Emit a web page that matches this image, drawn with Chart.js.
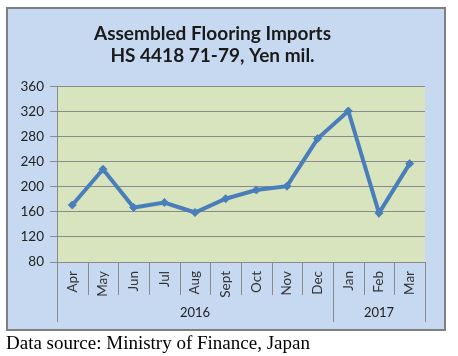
<!DOCTYPE html>
<html>
<head>
<meta charset="utf-8">
<script src="https://cdn.jsdelivr.net/npm/chart.js@4"></script>
<style>
  html, body { margin: 0; padding: 0; background: #ffffff; }
  #wrap { position: relative; width: 458px; height: 356px; }
  #c { position: absolute; left: 0; top: 0; }
  #src { position: absolute; left: 6px; top: 332px; font-family: "Liberation Serif", "Times New Roman", serif; font-size: 19px; line-height: 22px; color: #000; white-space: nowrap; }
</style>
</head>
<body>
<div id="wrap">
  <canvas id="c" width="458" height="356"></canvas>
  <div id="src">Data source: Ministry of Finance, Japan</div>
</div>
<script>
// ---- data ----
const titleLines = ['Assembled Flooring Imports', 'HS 4418 71-79, Yen mil.'];
const categories = ['Apr', 'May', 'Jun', 'Jul', 'Aug', 'Sept', 'Oct', 'Nov', 'Dec', 'Jan', 'Feb', 'Mar'];
const importValues = [171, 228, 167, 175, 159, 181, 195, 201, 277, 321, 158, 237];
const years = ['2016', '2017'];
const monthsPerYear = [9, 3];
const yMin = 80, yMax = 360, yStep = 40;

// ---- styles ----
const BOX_BG = '#c6d9f1';
const PLOT_BG = '#d7e4bd';
const GRID = '#8a8a8a';
const LINE = '#4a7ebb';
const FONT = 'Lato, "Open Sans", sans-serif';

const decorPlugin = {
  id: 'decor',
  beforeDraw(chart) {
    const ctx = chart.ctx, a = chart.chartArea;
    ctx.save();
    ctx.fillStyle = '#ffffff';
    ctx.fillRect(0, 0, chart.width, chart.height);
    ctx.fillStyle = BOX_BG;
    ctx.fillRect(7, 8, 438, 322);
    ctx.strokeStyle = '#7f7f7f';
    ctx.lineWidth = 2;
    ctx.strokeRect(7, 8, 438, 322);
    ctx.fillStyle = PLOT_BG;
    ctx.fillRect(a.left, a.top, a.right - a.left, a.bottom - a.top);
    ctx.restore();
  },
  afterDraw(chart) {
    const ctx = chart.ctx, a = chart.chartArea, xs = chart.scales.x;
    const n = categories.length;
    const boundary = (i) => {
      if (i <= 0) return xs.getPixelForValue(0) - (xs.getPixelForValue(1) - xs.getPixelForValue(0)) / 2;
      if (i >= n) return xs.getPixelForValue(n - 1) + (xs.getPixelForValue(n - 1) - xs.getPixelForValue(n - 2)) / 2;
      return (xs.getPixelForValue(i - 1) + xs.getPixelForValue(i)) / 2;
    };
    const groupEdges = [0];
    monthsPerYear.forEach((m) => groupEdges.push(groupEdges[groupEdges.length - 1] + m));
    ctx.save();
    ctx.strokeStyle = GRID;
    ctx.lineWidth = 1;
    for (let i = 0; i <= n; i++) {
      const x = Math.round(boundary(i)) + 0.5;
      const long = groupEdges.includes(i);
      ctx.beginPath();
      ctx.moveTo(x, a.bottom);
      ctx.lineTo(x, a.bottom + (long ? 60 : 33));
      ctx.stroke();
    }
    ctx.fillStyle = '#222222';
    ctx.font = '13px ' + FONT;
    ctx.textAlign = 'center';
    ctx.textBaseline = 'middle';
    years.forEach((y, k) => {
      const x0 = boundary(groupEdges[k]), x1 = boundary(groupEdges[k + 1]);
      ctx.fillText(y, (x0 + x1) / 2, a.bottom + 51);
    });
    ctx.restore();
  }
};

new Chart(document.getElementById('c'), {
  type: 'line',
  data: {
    labels: categories,
    datasets: [{
      data: importValues,
      borderColor: LINE,
      backgroundColor: LINE,
      borderWidth: 4,
      pointStyle: 'rectRot',
      pointRadius: 4,
      pointHoverRadius: 4,
      pointBorderWidth: 1,
      tension: 0,
      fill: false
    }]
  },
  options: {
    responsive: false,
    animation: false,
    devicePixelRatio: 1,
    layout: { padding: { left: 0, right: 33, top: 0, bottom: 34 } },
    plugins: {
      legend: { display: false },
      tooltip: { enabled: false },
      title: {
        display: true,
        text: titleLines,
        color: '#1a1a1a',
        font: { family: FONT, size: 19, weight: 'bold', lineHeight: 1.2 },
        padding: { top: 22, bottom: 19 }
      }
    },
    scales: {
      x: {
        type: 'category',
        offset: true,
        grid: { display: true, drawOnChartArea: false, drawTicks: false, offset: true },
        border: { display: true, color: GRID, width: 1 },
        ticks: {
          autoSkip: false,
          minRotation: 90,
          maxRotation: 90,
          padding: 9,
          color: '#333333',
          font: { family: FONT, size: 13.5 }
        },
        afterFit(scale) { scale.height = 60; }
      },
      y: {
        min: yMin,
        max: yMax,
        grid: { color: GRID, lineWidth: 1, tickLength: 7, tickColor: GRID },
        border: { display: true, color: GRID, width: 1 },
        ticks: {
          stepSize: yStep,
          padding: 6,
          color: '#222222',
          font: { family: FONT, size: 13.5 }
        },
        afterFit(scale) { scale.width = 57; }
      }
    }
  },
  plugins: [decorPlugin]
});
</script>
</body>
</html>
